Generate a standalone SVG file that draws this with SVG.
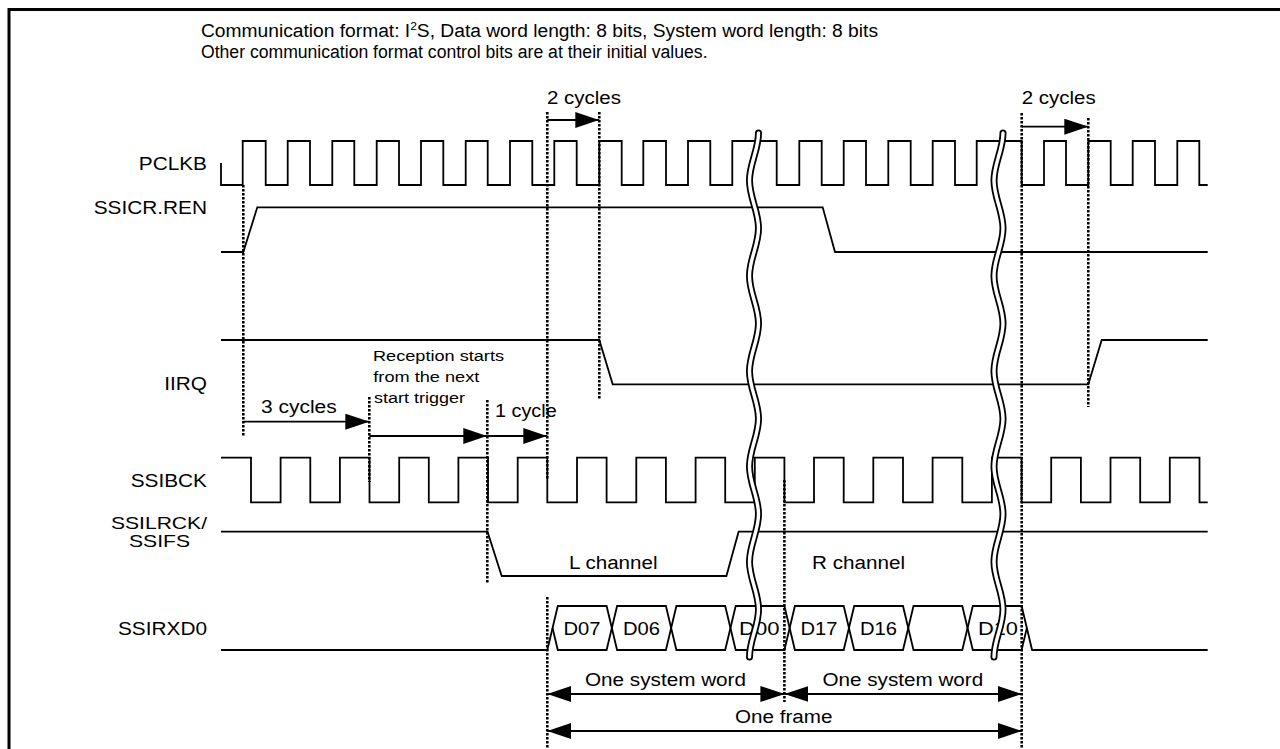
<svg xmlns="http://www.w3.org/2000/svg" width="1280" height="749" viewBox="0 0 1280 749">
<style>
.t{font-family:"Liberation Sans",Arial,sans-serif;font-size:18px;fill:#000}
.s{font-size:15.5px}
.h{font-size:17.6px}
.lr{font-size:16.5px}
.sig{fill:none;stroke:#000;stroke-width:1.8;stroke-linejoin:miter}
.dot{fill:none;stroke:#000;stroke-width:2.6;stroke-dasharray:2.4 1.6}
.arr{fill:none;stroke:#000;stroke-width:1.8}
.brkO{fill:none;stroke:#000;stroke-width:7;stroke-linecap:round}
.brkI{fill:none;stroke:#fff;stroke-width:3.4;stroke-linecap:round}
</style>
<defs>
<marker id="ah" viewBox="0 0 24 16" refX="24" refY="8" markerWidth="24" markerHeight="16" markerUnits="userSpaceOnUse" orient="auto-start-reverse"><path d="M0,0 L24,8 L0,16 z" fill="#000"/></marker>
<path id="brk" d="M0,0 C0,17.1 -9,30.5 -9,47.6 S0,78.1 0,95.3 S-9,125.8 -9,142.9 S0,173.4 0,190.5 S-9,221 -9,238.2 S0,268.7 0,285.8 S-9,316.3 -9,333.5 S0,364 0,381.1 S-9,411.6 -9,428.7 S0,459.2 0,476.4 S-9,506.9 -9,524"/>
</defs>
<rect x="0" y="0" width="1280" height="749" fill="#fff"/>
<rect id="frame" x="9" y="9.5" width="1290" height="760" fill="none" stroke="#000" stroke-width="3"/>

<g id="header">
<text class="t h" x="201" y="37" textLength="677" lengthAdjust="spacingAndGlyphs">Communication format: I<tspan font-size="11" dy="-7">2</tspan><tspan dy="7">S, Data word length: 8 bits, System word length: 8 bits</tspan></text>
<text class="t h" x="201" y="58">Other communication format control bits are at their initial values.</text>
</g>

<g id="labels">
<text class="t" x="138.8" y="170" textLength="68.2" lengthAdjust="spacingAndGlyphs">PCLKB</text>
<text class="t" x="93.7" y="214" textLength="113.3" lengthAdjust="spacingAndGlyphs">SSICR.REN</text>
<text class="t" x="164.2" y="390" textLength="42.8" lengthAdjust="spacingAndGlyphs">IIRQ</text>
<text class="t" x="130.7" y="486.5" textLength="76.3" lengthAdjust="spacingAndGlyphs">SSIBCK</text>
<text class="t lr" x="111" y="529" textLength="96" lengthAdjust="spacingAndGlyphs">SSILRCK/</text>
<text class="t lr" x="129" y="547" textLength="61" lengthAdjust="spacingAndGlyphs">SSIFS</text>
<text class="t" x="118" y="634.5" textLength="89" lengthAdjust="spacingAndGlyphs">SSIRXD0</text>
</g>

<g id="PCLKB">
<path class="sig" d="M221,163 V185 H242.7 V141 H265.7 V185 H287.7 V141 H310 V185 H332.3 V141 H354.3 V185 H376.7 V141 H399 V185 H421 V141 H443.3 V185 H465.7 V141 H487.7 V185 H510 V141 H532.3 V185 H554.3 V141 H576.7 V185 H599.3 V141 H621.7 V185 H643.3 V141 H666 V185 H688 V141 H710.3 V185 H732.3 V141 H776.7 V185 H799.3 V141 H821.7 V185 H843.7 V141 H866 V185 H888.3 V141 H910.7 V185 H932.7 V141 H955 V185 H976.7 V141 H1021.7 V185 H1044 V141 H1066 V185 H1088.3 V141 H1110.7 V185 H1132.7 V141 H1155 V185 H1177.3 V141 H1199.3 V185 H1207.7"/>
</g>
<g id="SSICR_REN">
<path class="sig" d="M221,252 H243.3 L257.3,207.3 H822.7 L835,252 H1207.7"/>
</g>
<g id="IIRQ">
<path class="sig" d="M221,340 H599.3 L612.7,384.3 H1088.3 L1101.7,340 H1207.7"/>
</g>
<g id="SSIBCK">
<path class="sig" d="M221,457.7 H251 V502.3 H280.6 V457.7 H310.3 V502.3 H339.9 V457.7 H369.5 V502.3 H399.2 V457.7 H428.8 V502.3 H458.4 V457.7 H488 V502.3 H517.7 V457.7 H547.3 V502.3 H577 V457.7 H606.6 V502.3 H636.3 V457.7 H665.9 V502.3 H695.6 V457.7 H725.2 V502.3 H754.8 V457.7 H784.4 V502.3 H814 V457.7 H843.7 V502.3 H873.3 V457.7 H903 V502.3 H932.6 V457.7 H962.3 V502.3 H991.9 V457.7 H1021.6 V502.3 H1051.2 V457.7 H1080.9 V502.3 H1110.5 V457.7 H1140.2 V502.3 H1169.8 V457.7 H1199.5 V502.3 H1207.7"/>
</g>
<g id="SSILRCK">
<path class="sig" d="M221,531.7 H487.5 L501.7,576 H726.4 L738.6,531.7 H1207.7"/>
<text class="t" x="569" y="568.5" textLength="88.5" lengthAdjust="spacingAndGlyphs">L channel</text>
<text class="t" x="812" y="568.5" textLength="93" lengthAdjust="spacingAndGlyphs">R channel</text>
</g>
<g id="SSIRXD0">
<path class="sig" d="M221,650 H547.3 L557.8,606 H606.6 L617.1,650 H665.9 L676.4,606 H725.2 L735.7,650 H784.4 L794.9,606 H843.7 L854.2,650 H903 L913.5,606 H962.3 L972.8,650 H1021.6 L1026.85,628"/>
<path class="sig" d="M552.55,628 L557.8,650 H606.6 L617.1,606 H665.9 L676.4,650 H725.2 L735.7,606 H784.4 L794.9,650 H843.7 L854.2,606 H903 L913.5,650 H962.3 L972.8,606 H1021.6 L1032.1,650 H1207.7"/>
<text class="t" x="563.5" y="634.5" textLength="37" lengthAdjust="spacingAndGlyphs">D07</text>
<text class="t" x="623" y="634.5" textLength="37" lengthAdjust="spacingAndGlyphs">D06</text>
<text class="t" x="739" y="634.5" textLength="40.5" lengthAdjust="spacingAndGlyphs">D00</text>
<text class="t" x="800.5" y="634.5" textLength="37" lengthAdjust="spacingAndGlyphs">D17</text>
<text class="t" x="859.9" y="634.5" textLength="37" lengthAdjust="spacingAndGlyphs">D16</text>
<text class="t" x="978" y="634.5" textLength="40" lengthAdjust="spacingAndGlyphs">D10</text>
</g>

<g id="connectors">
<path class="dot" d="M243.3,185 V437"/>
<path class="dot" d="M369.3,397 V482"/>
<path class="dot" d="M487.3,400 V583"/>
<path class="dot" d="M547.3,112 V480"/>
<path class="dot" d="M547.3,597 V749"/>
<path class="dot" d="M599.3,112 V400"/>
<path class="dot" d="M784.4,480 V702"/>
<path class="dot" d="M1021.7,113 V749"/>
<path class="dot" d="M1088.3,118 V407"/>
<path class="arr" d="M547.3,120 H599.3" marker-end="url(#ah)"/>
<path class="arr" d="M1021.7,126.7 H1088.3" marker-end="url(#ah)"/>
<path class="arr" d="M243.3,421.7 H369.3" marker-end="url(#ah)"/>
<path class="arr" d="M369.3,436 H487.3" marker-end="url(#ah)"/>
<path class="arr" d="M487.3,436 H547.3" marker-end="url(#ah)"/>
<path class="arr" d="M547.3,694 H784.4" marker-start="url(#ah)" marker-end="url(#ah)"/>
<path class="arr" d="M784.4,694 H1021.7" marker-start="url(#ah)" marker-end="url(#ah)"/>
<path class="arr" d="M547.3,731 H1021.7" marker-start="url(#ah)" marker-end="url(#ah)"/>
</g>

<g id="annotations">
<text class="t" x="547" y="104" textLength="74" lengthAdjust="spacingAndGlyphs">2 cycles</text>
<text class="t" x="1021.7" y="104" textLength="74" lengthAdjust="spacingAndGlyphs">2 cycles</text>
<text class="t" x="261" y="413" textLength="75.7" lengthAdjust="spacingAndGlyphs">3 cycles</text>
<text class="t s" x="373" y="360.7" textLength="131" lengthAdjust="spacingAndGlyphs">Reception starts</text>
<text class="t s" x="373.3" y="382.3" textLength="106" lengthAdjust="spacingAndGlyphs">from the next</text>
<text class="t s" x="374" y="403.3" textLength="91" lengthAdjust="spacingAndGlyphs">start trigger</text>
<text class="t" x="495" y="417.3" textLength="61.7" lengthAdjust="spacingAndGlyphs">1 cycle</text>
<text class="t" x="585" y="686" textLength="161" lengthAdjust="spacingAndGlyphs">One system word</text>
<text class="t" x="822.5" y="686" textLength="160.7" lengthAdjust="spacingAndGlyphs">One system word</text>
<text class="t" x="735" y="723" textLength="97.5" lengthAdjust="spacingAndGlyphs">One frame</text>
</g>

<g id="breaks">
<use href="#brk" x="758.5" y="133" class="brkO"/>
<use href="#brk" x="758.5" y="133" class="brkI"/>
<use href="#brk" x="1003" y="133" class="brkO"/>
<use href="#brk" x="1003" y="133" class="brkI"/>
</g>
</svg>
